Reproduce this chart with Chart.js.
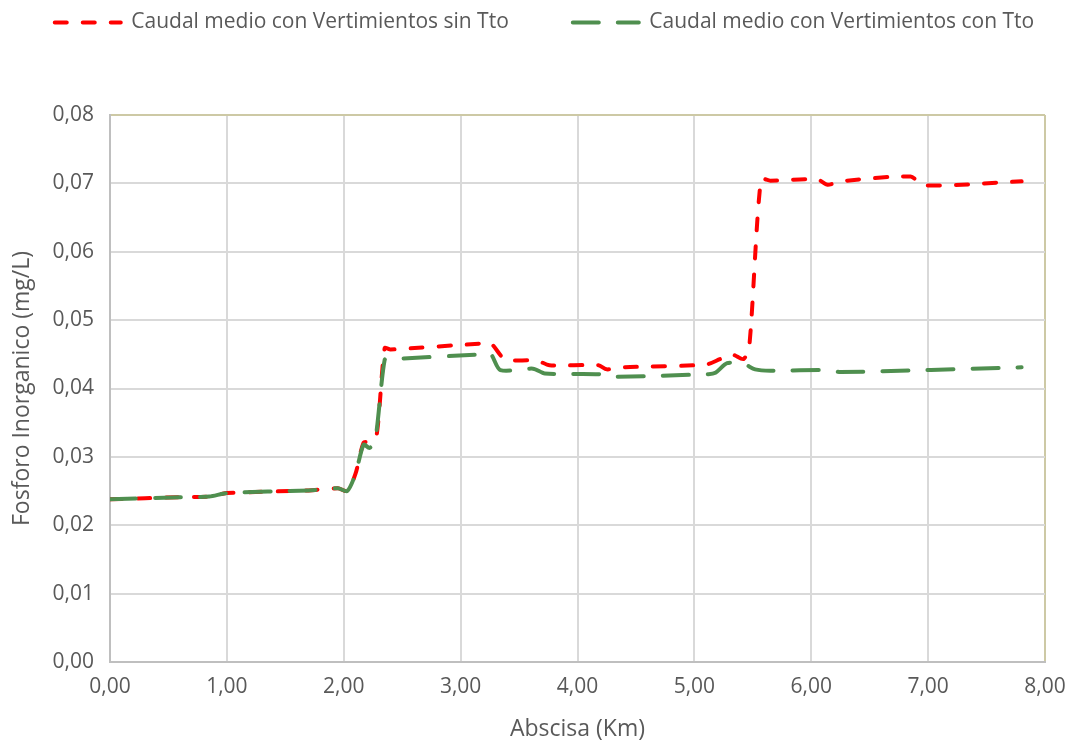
<!DOCTYPE html>
<html>
<head>
<meta charset="utf-8">
<script src="https://cdn.jsdelivr.net/npm/chart.js@4"></script>
<style>
  body { margin: 0; background: #fff; }
  #wrap { width: 1071px; height: 741px; }
</style>
</head>
<body>
<div id="wrap"><canvas id="fosforoChart" width="1071" height="741"></canvas></div>
<script>
// Abscisa (Km) and Fosforo Inorganico (mg/L)
const sinTtoX = [0.00, 0.60, 0.85, 1.00, 1.70, 1.95, 2.03, 2.10, 2.17, 2.22, 2.28, 2.35, 2.40, 3.20, 3.26, 3.36, 3.42, 3.65, 3.76, 4.18, 4.25, 4.40, 5.10, 5.22, 5.32, 5.42, 5.47, 5.57, 5.65, 6.05, 6.14, 6.25, 6.85, 6.96, 7.80];
const sinTtoY = [0.0238, 0.0241, 0.0242, 0.0247, 0.0251, 0.0254, 0.0250, 0.0275, 0.0321, 0.0322, 0.0330, 0.0459, 0.0457, 0.0466, 0.0466, 0.0445, 0.0441, 0.0441, 0.0434, 0.0434, 0.0428, 0.0431, 0.0435, 0.0443, 0.0450, 0.0443, 0.0462, 0.0706, 0.0704, 0.0706, 0.0698, 0.0703, 0.0710, 0.0697, 0.0703];

const conTtoX = [0.00, 0.60, 0.85, 1.00, 1.70, 1.95, 2.03, 2.10, 2.17, 2.22, 2.27, 2.35, 2.40, 3.20, 3.26, 3.34, 3.62, 3.72, 4.18, 4.25, 5.12, 5.18, 5.28, 5.42, 5.52, 5.65, 6.15, 6.25, 7.80];
const conTtoY = [0.0238, 0.0241, 0.0242, 0.0247, 0.0251, 0.0254, 0.0250, 0.0275, 0.0318, 0.0313, 0.0325, 0.0442, 0.0443, 0.0450, 0.0450, 0.0427, 0.0429, 0.0422, 0.0421, 0.0417, 0.0421, 0.0423, 0.0437, 0.0436, 0.0428, 0.0426, 0.0427, 0.0424, 0.0431];

const xTicks = [0, 1, 2, 3, 4, 5, 6, 7, 8];
const yTicks = [0, 0.01, 0.02, 0.03, 0.04, 0.05, 0.06, 0.07, 0.08];

const seriesNames = ['Caudal medio con Vertimientos sin Tto', 'Caudal medio con Vertimientos con Tto'];
const seriesColors = ['#ff0000', '#4f8f4f'];
const seriesDash = [[12, 16], [26, 19]];

function toPoints(xs, ys) {
    return xs.map((x, i) => ({ x: x, y: ys[i] }));
}

const textColor = '#595959';
const gridColor = '#d9d9d9';
const frameColor = '#cdc9a5';
const fontFamily = "'Open Sans', 'Liberation Sans', sans-serif";
const fmt = (v) => v.toFixed(2).replace('.', ',');

// keep both legend items on one row and push the plot area down
const legendSpace = {
    id: 'legendSpace',
    beforeInit: (chart) => {
        const legend = chart.legend;
        if (!legend) return;
        const origFit = legend.fit;
        legend.fit = function () {
            const w = this.maxWidth;
            this.maxWidth = 2000;
            origFit.call(this);
            this.maxWidth = w;
            this.width = w;
            this.height += 72;
        };
        const origDraw = legend.draw;
        legend.draw = function () {
            const l = this.left, r = this.right;
            this.left = l - 256;
            this.right = r + 300;
            origDraw.call(this);
            this.left = l;
            this.right = r;
        };
    }
};

const ctx = document.getElementById('fosforoChart').getContext('2d');

new Chart(ctx, {
    type: 'scatter',
    data: {
        datasets: [
            {
                label: seriesNames[0],
                data: toPoints(sinTtoX, sinTtoY),
                showLine: true,
                borderColor: seriesColors[0],
                backgroundColor: seriesColors[0],
                borderWidth: 4,
                borderDash: seriesDash[0],
                borderCapStyle: 'round',
                pointRadius: 0,
                tension: 0.25,
                order: 2
            },
            {
                label: seriesNames[1],
                data: toPoints(conTtoX, conTtoY),
                showLine: true,
                borderColor: seriesColors[1],
                backgroundColor: seriesColors[1],
                borderWidth: 4,
                borderDash: seriesDash[1],
                borderCapStyle: 'round',
                pointRadius: 0,
                tension: 0.25,
                order: 1
            }
        ]
    },
    options: {
        responsive: false,
        animation: false,
        layout: {
            padding: { left: 0, right: 26, top: -52, bottom: 0 }
        },
        plugins: {
            legend: {
                position: 'top',
                labels: {
                    usePointStyle: true,
                    pointStyle: 'line',
                    pointStyleWidth: 66,
                    color: textColor,
                    font: { family: fontFamily, size: 21 },
                    padding: 64,
                    generateLabels: (chart) => chart.data.datasets.map((ds, i) => ({
                        text: ds.label,
                        datasetIndex: i,
                        fillStyle: seriesColors[i],
                        strokeStyle: seriesColors[i],
                        fontColor: textColor,
                        lineWidth: 4,
                        lineDash: seriesDash[i],
                        lineCap: 'round',
                        pointStyle: 'line',
                        hidden: false
                    }))
                }
            },
            tooltip: { enabled: false }
        },
        scales: {
            x: {
                type: 'linear',
                min: 0,
                max: 8,
                afterBuildTicks: (scale) => {
                    scale.ticks = xTicks.map(v => ({ value: v }));
                },
                afterFit: (scale) => {
                    scale.height = 79;
                    scale.paddingLeft = 0;
                    scale.paddingRight = 0;
                },
                ticks: {
                    color: textColor,
                    font: { family: fontFamily, size: 21 },
                    padding: 12,
                    maxRotation: 0,
                    callback: fmt
                },
                grid: {
                    color: (c) => (c.tick && c.tick.value === 8 ? frameColor : gridColor),
                    lineWidth: 2,
                    drawTicks: false
                },
                border: { color: '#bfbfbf', width: 2 },
                title: {
                    display: true,
                    text: 'Abscisa (Km)',
                    color: textColor,
                    font: { family: fontFamily, size: 23 },
                    padding: { top: 0, bottom: -2 }
                }
            },
            y: {
                type: 'linear',
                min: 0,
                max: 0.08,
                afterBuildTicks: (scale) => {
                    scale.ticks = yTicks.map(v => ({ value: v }));
                },
                afterFit: (scale) => { scale.width = 110; },
                ticks: {
                    color: textColor,
                    font: { family: fontFamily, size: 21 },
                    padding: 16,
                    callback: fmt
                },
                grid: {
                    color: (c) => (c.tick && c.tick.value === 0.08 ? frameColor : gridColor),
                    lineWidth: 2,
                    drawTicks: false
                },
                border: { color: '#bfbfbf', width: 2 },
                title: {
                    display: true,
                    text: 'Fosforo Inorganico (mg/L)',
                    color: textColor,
                    font: { family: fontFamily, size: 23 },
                    padding: { top: 9, bottom: 0 }
                }
            }
        }
    },
    plugins: [legendSpace]
});
</script>
</body>
</html>
